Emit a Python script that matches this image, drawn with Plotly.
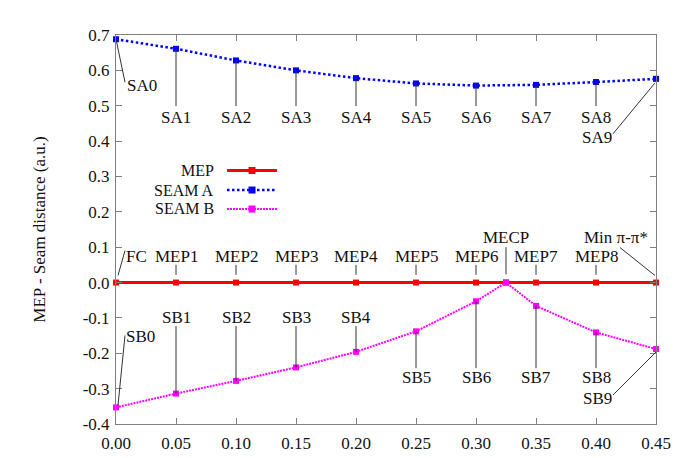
import plotly.graph_objects as go

# ---------------- data ----------------
x_mep = [0.00, 0.05, 0.10, 0.15, 0.20, 0.25, 0.30, 0.325, 0.35, 0.40, 0.45]
y_mep = [0.0, 0.0, 0.0, 0.0, 0.0, 0.0, 0.0, 0.0, 0.0, 0.0, 0.0]
mep_labels = ["FC", "MEP1", "MEP2", "MEP3", "MEP4", "MEP5", "MEP6", "MECP",
              "MEP7", "MEP8", "Min π-π*"]

x_sa = [0.00, 0.05, 0.10, 0.15, 0.20, 0.25, 0.30, 0.35, 0.40, 0.45]
y_sa = [0.688, 0.661, 0.628, 0.600, 0.578, 0.563, 0.557, 0.559, 0.567, 0.576]
sa_labels = ["SA0", "SA1", "SA2", "SA3", "SA4", "SA5", "SA6", "SA7", "SA8", "SA9"]

x_sb = [0.00, 0.05, 0.10, 0.15, 0.20, 0.25, 0.30, 0.325, 0.35, 0.40, 0.45]
y_sb = [-0.353, -0.314, -0.278, -0.240, -0.196, -0.138, -0.053, 0.0,
        -0.066, -0.141, -0.188]
sb_labels = ["SB0", "SB1", "SB2", "SB3", "SB4", "SB5", "SB6", None,
             "SB7", "SB8", "SB9"]

x_ticks = [0.00, 0.05, 0.10, 0.15, 0.20, 0.25, 0.30, 0.35, 0.40, 0.45]
y_ticks = [-0.4, -0.3, -0.2, -0.1, 0.0, 0.1, 0.2, 0.3, 0.4, 0.5, 0.6, 0.7]

# ---------------- style ----------------
FONT = "Liberation Serif"
FS = 17
RED, BLUE, MAG = "#ff0000", "#0000ff", "#ff00ff"
LEAD = "#333333"
AXC = "#808080"

fig = go.Figure()
fig.add_trace(go.Scatter(x=x_mep, y=y_mep, mode="lines+markers", name="MEP",
                         line=dict(color=RED, width=3),
                         marker=dict(symbol="square", size=6, color=RED),
                         cliponaxis=False, showlegend=False))
fig.add_trace(go.Scatter(x=x_sb, y=y_sb, mode="lines+markers", name="SEAM B",
                         line=dict(color=MAG, width=2, dash="2px,1px"),
                         marker=dict(symbol="square", size=6, color=MAG),
                         cliponaxis=False, showlegend=False))
fig.add_trace(go.Scatter(x=x_sa, y=y_sa, mode="lines+markers", name="SEAM A",
                         line=dict(color=BLUE, width=2.5, dash="2.5px,2.5px"),
                         marker=dict(symbol="square", size=6, color=BLUE),
                         cliponaxis=False, showlegend=False))

annotations = []
shapes = []


def text(x, y, t, xanchor="center", xshift=0, yshift=0):
    annotations.append(dict(x=x, y=y, xref="x", yref="y", text=t, showarrow=False,
                            xanchor=xanchor, yanchor="middle", xshift=xshift,
                            yshift=yshift, font=dict(family=FONT, size=FS, color="#111")))


def seg_data(x0, y0, x1, y1):
    shapes.append(dict(type="line", xref="x", yref="y", x0=x0, y0=y0, x1=x1, y1=y1,
                       line=dict(color=LEAD, width=1)))


def seg_px(x, y, dx0, dy0, dx1, dy1):
    # offsets in screen pixels (dy positive downward)
    shapes.append(dict(type="line", xref="x", yref="y", xsizemode="pixel",
                       ysizemode="pixel", xanchor=x, yanchor=y,
                       x0=dx0, x1=dx1, y0=-dy0, y1=-dy1,
                       line=dict(color=LEAD, width=1)))


# SEAM A labels
for i, (x, y, t) in enumerate(zip(x_sa, y_sa, sa_labels)):
    if i == 0:
        text(x, y, t, xanchor="left", xshift=9, yshift=-46)
        seg_px(x, y, 0, 0, 9, 43)
    elif i == len(x_sa) - 1:
        text(x, y, t, xanchor="right", xshift=-42, yshift=-58.5)
        seg_px(x, y, -43, 55, -1, 4)
    else:
        text(x, 0.468, t)
        seg_data(x, y, x, 0.499)

# MEP labels
for i, (x, y, t) in enumerate(zip(x_mep, y_mep, mep_labels)):
    if i == 0:
        text(x, y, t, xanchor="left", xshift=8, yshift=26)
        seg_px(x, y, 2, -7, 9, -32)
    elif i == len(x_mep) - 1:
        text(x, y, t, xanchor="center", xshift=-40, yshift=45)
        seg_px(x, y, -36, -35, -1, -7)
    elif t == "MECP":
        text(x, 0.128, t)
        seg_data(x, 0.100, x, 0.023)
    else:
        text(x, 0.075, t)
        seg_data(x, 0.050, x, 0.022)

# SEAM B labels
for i, (x, y, t) in enumerate(zip(x_sb, y_sb, sb_labels)):
    if t is None:
        continue
    if i == 0:
        text(x, y, t, xanchor="left", xshift=8, yshift=71)
        seg_px(x, y, 2, -2, 9, -72)
    elif i == len(x_sb) - 1:
        text(x, y, t, xanchor="right", xshift=-42, yshift=-49)
        seg_px(x, y, -43, 46, 0, 3)
    elif x < 0.22:
        text(x, -0.098, t)
        seg_data(x, -0.123, x, y)
    else:
        text(x, -0.269, t)
        seg_data(x, y, x, -0.242)

# custom gnuplot-style legend (text left, sample right)
leg_items = [("MEP", RED, 3, "solid"), ("SEAM A", BLUE, 2.5, "2.5px,2.5px"),
             ("SEAM B", MAG, 2, "2px,1px")]
leg_rows = [0.6517, 0.6015, 0.5527]
for (name, col, w, dash), py in zip(leg_items, leg_rows):
    annotations.append(dict(x=0.1833, y=py, xref="paper", yref="paper", text=name,
                            showarrow=False, xanchor="right", yanchor="middle",
                            borderpad=0,
                            font=dict(family=FONT, size=16, color="#111")))
    shapes.append(dict(type="line", xref="paper", yref="paper", x0=0.2056, x1=0.2981,
                       y0=py, y1=py, line=dict(color=col, width=w, dash=dash)))
    shapes.append(dict(type="rect", xref="paper", yref="paper", xsizemode="pixel",
                       ysizemode="pixel", xanchor=0.2519, yanchor=py,
                       x0=-3.5, x1=3.5, y0=-3.5, y1=3.5,
                       fillcolor=col, line=dict(width=0)))

axis_common = dict(showline=True, linecolor=AXC, linewidth=1, mirror="ticks",
                   ticks="inside", ticklen=6, tickcolor=AXC, showgrid=False,
                   zeroline=False, automargin=False,
                   tickfont=dict(family=FONT, size=FS, color="#111"))

fig.update_layout(
    width=675, height=458,
    margin=dict(l=116, r=19, t=35, b=34),
    paper_bgcolor="white", plot_bgcolor="white",
    font=dict(family=FONT, size=FS, color="#111"),
    xaxis=dict(range=[0, 0.45], tickvals=x_ticks, ticklabelstandoff=4,
               ticktext=[f"{v:.2f}" for v in x_ticks], **axis_common),
    yaxis=dict(range=[-0.4, 0.7], tickvals=y_ticks, ticklabelstandoff=2,
               ticktext=[f"{v:.1f}" for v in y_ticks],
               title=dict(text="MEP - Seam distance (a.u.)",
                          font=dict(family=FONT, size=FS, color="#111"), standoff=32),
               **axis_common),
    annotations=annotations, shapes=shapes,
    showlegend=False,
)

fig.write_html("out.html")
